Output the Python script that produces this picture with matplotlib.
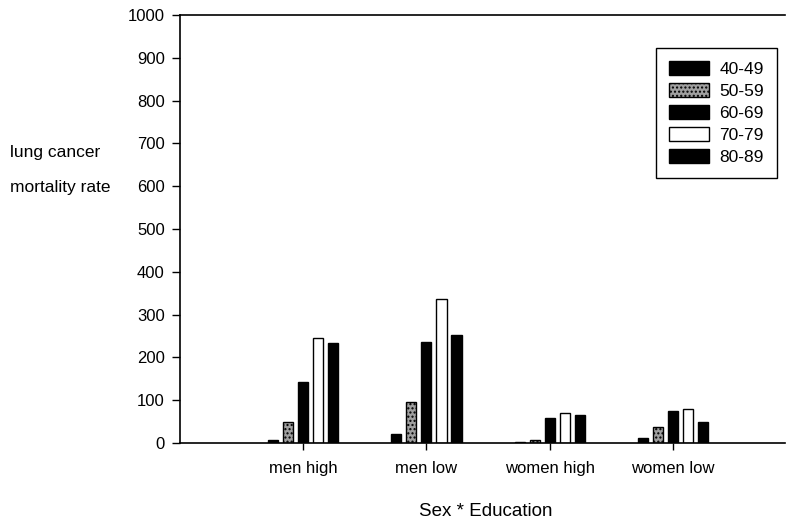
import matplotlib.pyplot as plt
import numpy as np

plt.rcParams['font.family'] = ['Liberation Sans', 'DejaVu Sans']

groups = ['men high', 'men low', 'women high', 'women low']
ages = ['40-49', '50-59', '60-69', '70-79', '80-89']
rates = {
    '40-49': [8, 22, 3, 12],
    '50-59': [48, 95, 8, 38],
    '60-69': [143, 237, 58, 75],
    '70-79': [245, 336, 70, 80],
    '80-89': [233, 252, 66, 50],
}
colors = ['black', '#a0a0a0', 'black', 'white', 'black']
hatches = [None, '....', None, None, None]

fig = plt.figure(figsize=(7.89, 5.28), dpi=100)
ax = fig.add_axes([180 / 789, 1 - 443 / 528, 605 / 789, 428 / 528])

x = np.arange(1, len(groups) + 1)
width = 0.082
step = 0.122
for i, age in enumerate(ages):
    ax.bar(x + (i - 2) * step, rates[age], width, color=colors[i],
           edgecolor='black', linewidth=1.0, hatch=hatches[i], label=age)

ax.set_xlim(0, 4.91)
ax.set_ylim(0, 1000)
ax.set_yticks(range(0, 1001, 100))
ax.set_xticks(x)
ax.set_xticklabels(groups)
ax.tick_params(axis='y', direction='out', length=6, width=1, labelsize=12, pad=5)
ax.tick_params(axis='x', direction='out', length=5, width=1, labelsize=12, pad=8)
ax.spines['right'].set_visible(False)
for s in ['left', 'bottom', 'top']:
    ax.spines[s].set_linewidth(1.2)

fig.text(10 / 789, 1 - 153 / 528, 'lung cancer', fontsize=12.5, va='center', ha='left')
fig.text(10 / 789, 1 - 187 / 528, 'mortality rate', fontsize=12.5, va='center', ha='left')
fig.text(486 / 789, 1 - 512 / 528, 'Sex * Education', fontsize=13.5, va='center', ha='center')

leg = ax.legend(loc='upper right', bbox_to_anchor=(597 / 605, 1 - 33 / 428),
                borderaxespad=0, fontsize=12.5, fancybox=False, edgecolor='black',
                framealpha=1, handlelength=2.3, handleheight=0.85, labelspacing=0.35,
                borderpad=0.75, handletextpad=0.6)
leg.get_frame().set_linewidth(1.0)

fig.savefig('out.png', dpi=100)
